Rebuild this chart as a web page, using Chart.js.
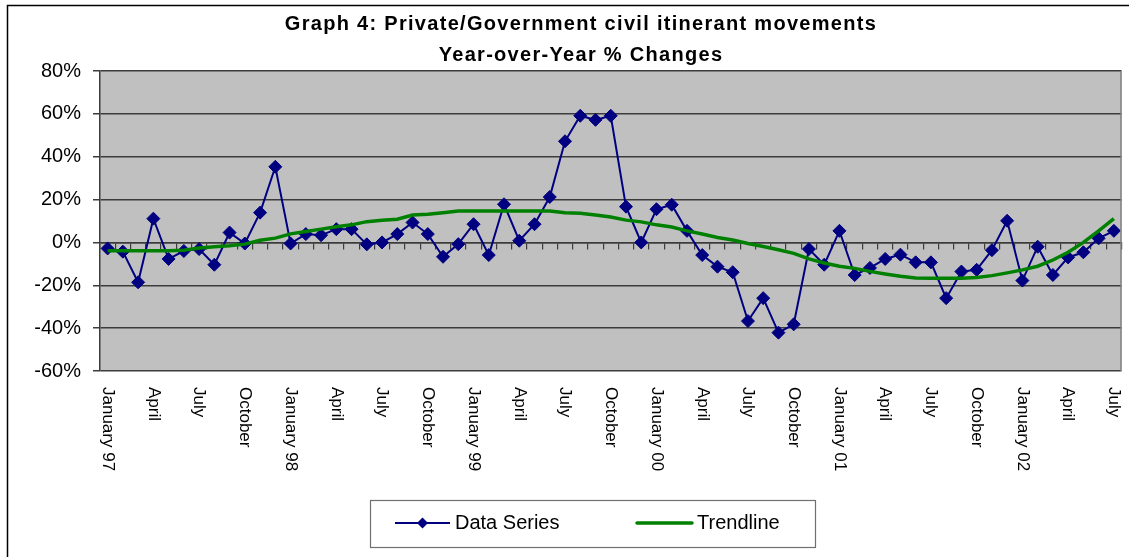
<!DOCTYPE html>
<html>
<head>
<meta charset="utf-8">
<script src="https://cdn.jsdelivr.net/npm/chart.js@4/dist/chart.umd.min.js"></script>
<style>
  html, body { margin: 0; padding: 0; background: #ffffff; }
  #wrap { width: 1129px; height: 557px; position: relative; }
  canvas { display: block; }
</style>
</head>
<body>
<div id="wrap"><canvas id="c" width="1129" height="557"></canvas></div>
<script>
// ---- Data ----
const categories = [
  "January 97","February","March","April","May","June","July","August","September","October","November","December",
  "January 98","February","March","April","May","June","July","August","September","October","November","December",
  "January 99","February","March","April","May","June","July","August","September","October","November","December",
  "January 00","February","March","April","May","June","July","August","September","October","November","December",
  "January 01","February","March","April","May","June","July","August","September","October","November","December",
  "January 02","February","March","April","May","June","July"
];

const dataSeries = [
  -2.8, -4.3, -18.6, 11.1, -7.7, -4.0, -3.1, -10.4, 4.6, -0.5, 13.9, 35.3,
  -0.5, 3.9, 3.4, 6.2, 6.2, -0.9, 0.0, 3.9, 9.3, 3.9, -6.7, -0.8,
  8.5, -5.9, 17.8, 0.8, 8.5, 21.2, 47.2, 59.1, 57.2, 59.1, 16.7, 0.0,
  15.5, 17.6, 5.4, -5.9, -11.3, -13.9, -36.7, -26.0, -42.1, -38.2, -3.1, -10.4,
  5.4, -15.2, -11.9, -7.7, -5.7, -9.3, -9.3, -26.0, -13.6, -12.8, -3.6, 10.1,
  -17.8, -2.0, -15.2, -7.0, -4.6, 1.9, 5.4
];

const trendline = [
  -3.9, -3.9, -3.9, -3.9, -3.9, -3.6, -2.6, -2.0, -1.5, -0.8, 1.0, 2.0,
  4.0, 5.1, 6.2, 7.3, 8.2, 9.7, 10.4, 10.8, 12.8, 13.1, 13.9, 14.7,
  14.7, 14.7, 14.7, 14.7, 14.7, 14.7, 13.9, 13.6, 12.8, 11.9, 10.4, 9.6,
  8.2, 7.2, 5.4, 3.9, 2.3, 1.1, -0.5, -1.9, -3.4, -5.1, -7.7, -9.6,
  -11.1, -12.1, -13.5, -14.7, -15.8, -16.6, -16.7, -16.7, -16.7, -16.4, -15.5, -14.2,
  -12.8, -11.1, -8.2, -4.6, 0.0, 5.4, 11.1
];

const yTicks = [-60, -40, -20, 0, 20, 40, 60, 80];
const titleLines = ["Graph 4: Private/Government civil itinerant movements", "Year-over-Year % Changes"];
const legendLabels = ["Data Series", "Trendline"];

const FONT = '"Liberation Sans", Arial, sans-serif';
const NAVY = '#000080';
const GREEN = '#008000';
const GRID = '#3c3c3c';

const decor = {
  id: 'decor',
  beforeDraw(chart) {
    const ctx = chart.ctx, a = chart.chartArea;
    ctx.save();
    ctx.fillStyle = '#ffffff';
    ctx.fillRect(0, 0, chart.width, chart.height);
    ctx.fillStyle = '#C0C0C0';
    ctx.fillRect(a.left, a.top, a.right - a.left, a.bottom - a.top);
    // outer chart border (left + top visible)
    ctx.strokeStyle = '#000000';
    ctx.lineWidth = 1.5;
    ctx.beginPath();
    ctx.moveTo(7.5, chart.height + 2);
    ctx.lineTo(7.5, 5.5);
    ctx.lineTo(chart.width + 2, 5.5);
    ctx.stroke();
    ctx.restore();
  },
  afterDraw(chart) {
    const ctx = chart.ctx, a = chart.chartArea;
    const xs = chart.scales.x;
    ctx.save();
    // plot area right border
    ctx.strokeStyle = '#808080';
    ctx.lineWidth = 1.5;
    ctx.beginPath();
    ctx.moveTo(a.right - 0.5, a.top);
    ctx.lineTo(a.right - 0.5, a.bottom);
    ctx.stroke();

    // title
    ctx.fillStyle = '#000000';
    ctx.font = 'bold 20px ' + FONT;
    ctx.textAlign = 'center';
    ctx.textBaseline = 'middle';
    try { ctx.letterSpacing = '1.3px'; } catch (e) {}
    ctx.fillText(titleLines[0], 581, 24);
    ctx.fillText(titleLines[1], 581, 55);
    try { ctx.letterSpacing = '0px'; } catch (e) {}

    // rotated category labels (every 3rd month), reading top to bottom
    ctx.font = '17px ' + FONT;
    ctx.textAlign = 'left';
    ctx.textBaseline = 'middle';
    for (let i = 0; i < categories.length; i += 3) {
      const x = xs.getPixelForValue(i);
      ctx.save();
      ctx.translate(x, 387);
      ctx.rotate(Math.PI / 2);
      ctx.fillText(categories[i], 0, 0);
      ctx.restore();
    }

    // legend
    const lx = 370, ly = 500, lw = 445, lh = 47, cy = 523;
    ctx.fillStyle = '#ffffff';
    ctx.fillRect(lx, ly, lw, lh);
    ctx.strokeStyle = '#707070';
    ctx.lineWidth = 1.2;
    ctx.strokeRect(lx + 0.5, ly + 0.5, lw, lh);

    ctx.strokeStyle = NAVY;
    ctx.lineWidth = 2;
    ctx.beginPath();
    ctx.moveTo(395, cy); ctx.lineTo(450, cy);
    ctx.stroke();
    ctx.fillStyle = NAVY;
    ctx.beginPath();
    const dx = 422.5, r = 5.5;
    ctx.moveTo(dx - r, cy); ctx.lineTo(dx, cy - r); ctx.lineTo(dx + r, cy); ctx.lineTo(dx, cy + r);
    ctx.closePath();
    ctx.fill();

    ctx.strokeStyle = GREEN;
    ctx.lineWidth = 3.5;
    ctx.lineCap = 'round';
    ctx.beginPath();
    ctx.moveTo(637, cy); ctx.lineTo(692, cy);
    ctx.stroke();

    ctx.fillStyle = '#000000';
    ctx.font = '20px ' + FONT;
    ctx.textAlign = 'left';
    ctx.textBaseline = 'middle';
    ctx.fillText(legendLabels[0], 455, cy);
    ctx.fillText(legendLabels[1], 697, cy);
    ctx.restore();
  }
};

new Chart(document.getElementById('c'), {
  type: 'line',
  data: {
    labels: categories,
    datasets: [
      {
        label: legendLabels[0],
        data: dataSeries,
        borderColor: NAVY,
        backgroundColor: NAVY,
        borderWidth: 2,
        pointStyle: 'rectRot',
        pointRadius: 6.5,
        pointBorderWidth: 1,
        pointBackgroundColor: NAVY,
        pointBorderColor: NAVY,
        tension: 0,
        order: 1
      },
      {
        label: legendLabels[1],
        data: trendline,
        borderColor: GREEN,
        borderWidth: 3.5,
        pointRadius: 0,
        tension: 0,
        order: 0
      }
    ]
  },
  options: {
    responsive: false,
    animation: false,
    devicePixelRatio: 1,
    layout: { padding: { left: 12, right: 6, top: 71, bottom: 186 } },
    plugins: {
      legend: { display: false },
      title: { display: false },
      tooltip: { enabled: false }
    },
    scales: {
      x: {
        type: 'category',
        offset: true,
        position: { y: 0 },
        grid: {
          display: true,
          drawOnChartArea: false,
          drawTicks: true,
          tickLength: 6,
          offset: true,
          color: GRID,
          lineWidth: 1.2
        },
        border: { display: true, color: GRID, width: 1.5 },
        ticks: { display: false, autoSkip: false }
      },
      y: {
        min: -60,
        max: 80,
        afterBuildTicks(scale) {
          scale.ticks = yTicks.map(v => ({ value: v }));
        },
        afterFit(scale) { scale.width = 88; },
        grid: {
          color: GRID,
          lineWidth: 1.5,
          drawTicks: true,
          tickLength: 7
        },
        border: { display: true, color: GRID, width: 1.5 },
        ticks: {
          color: '#000000',
          padding: 12,
          font: { family: FONT, size: 20 },
          callback: v => v + '%'
        }
      }
    }
  },
  plugins: [decor]
});
</script>
</body>
</html>
